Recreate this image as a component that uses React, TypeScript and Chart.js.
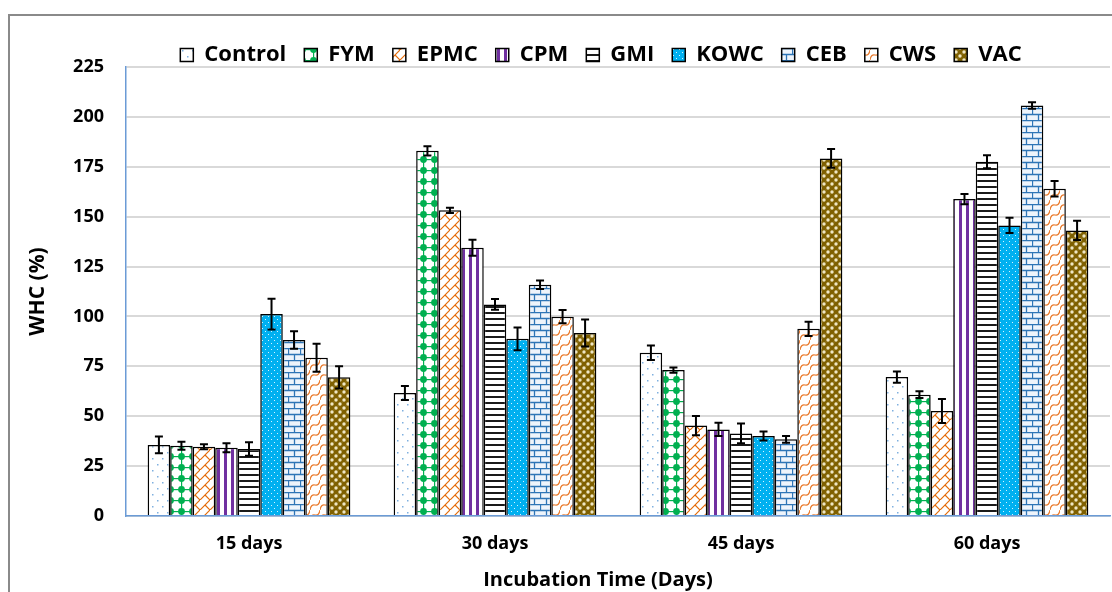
import React, { useEffect, useRef } from 'react';
import { Chart, registerables } from 'chart.js';

Chart.register(...registerables);

// ---------- data ----------
const categories = ['15 days', '30 days', '45 days', '60 days'];
const seriesNames = ['Control', 'FYM', 'EPMC', 'CPM', 'GMI', 'KOWC', 'CEB', 'CWS', 'VAC'];

const control = [35.6, 61.6, 81.8, 69.6];
const fym = [35.2, 183.0, 73.1, 60.8];
const epmc = [34.7, 153.2, 45.3, 52.6];
const cpm = [34.2, 134.4, 43.4, 158.8];
const gmi = [33.6, 106.0, 41.4, 177.5];
const kowc = [101.2, 88.8, 40.1, 145.6];
const ceb = [88.2, 115.9, 38.4, 205.7];
const cws = [79.3, 99.9, 93.8, 164.0];
const vac = [69.5, 91.7, 179.2, 143.1];

const controlErr = [4.2, 3.5, 3.6, 2.8];
const fymErr = [2.0, 2.3, 1.3, 1.7];
const epmcErr = [1.2, 1.3, 4.8, 6.0];
const cpmErr = [2.3, 4.0, 3.3, 2.6];
const gmiErr = [3.4, 2.7, 5.0, 3.3];
const kowcErr = [7.7, 5.7, 2.3, 3.8];
const cebErr = [4.4, 2.1, 1.7, 1.6];
const cwsErr = [7.0, 3.3, 3.6, 3.9];
const vacErr = [5.6, 6.8, 4.7, 4.8];

const seriesValues = [control, fym, epmc, cpm, gmi, kowc, ceb, cws, vac];
const seriesErrors = [controlErr, fymErr, epmcErr, cpmErr, gmiErr, kowcErr, cebErr, cwsErr, vacErr];

const yTicksMin = 0;
const yTicksMax = 225;
const yTicksStep = 25;

const yTitle = 'WHC (%)';
const xTitle = 'Incubation Time (Days)';

const FONT = "'Open Sans', 'DejaVu Sans', sans-serif";

// ---------- patterns ----------
type Draw = (g: CanvasRenderingContext2D, w: number, h: number) => void;
function makePattern(w: number, h: number, draw: Draw): CanvasPattern | string {
  const c = document.createElement('canvas');
  c.width = w;
  c.height = h;
  const g = c.getContext('2d');
  if (!g) return '#ccc';
  draw(g, w, h);
  return g.createPattern(c, 'repeat') || '#ccc';
}

function buildPatterns() {
  const controlP = makePattern(10, 12, (g, w, h) => {
    g.fillStyle = '#fff';
    g.fillRect(0, 0, w, h);
    g.fillStyle = '#7fb0e0';
    g.fillRect(2, 2, 1.5, 1.5);
    g.fillRect(7, 8, 1.5, 1.5);
  });
  const fymP = makePattern(11, 11, (g, w, h) => {
    g.fillStyle = '#fff';
    g.fillRect(0, 0, w, h);
    g.fillStyle = '#00B050';
    g.beginPath();
    g.arc(5.5, 5.5, 3.4, 0, Math.PI * 2);
    g.fill();
    g.fillRect(5, 0, 1.2, h);
    g.fillRect(0, 5, w, 1.2);
  });
  const epmcP = makePattern(10, 10, (g, w, h) => {
    g.fillStyle = '#fff';
    g.fillRect(0, 0, w, h);
    g.strokeStyle = '#E46C0A';
    g.lineWidth = 1.2;
    g.beginPath();
    g.moveTo(0, 10);
    g.lineTo(10, 0);
    g.moveTo(5, 5);
    g.lineTo(10, 10);
    g.stroke();
  });
  const cpmP = makePattern(7, 2, (g, w, h) => {
    g.fillStyle = '#fff';
    g.fillRect(0, 0, w, h);
    g.fillStyle = '#7030A0';
    g.fillRect(0, 0, 3, h);
  });
  const gmiP = makePattern(2, 6, (g, w, h) => {
    g.fillStyle = '#fff';
    g.fillRect(0, 0, w, h);
    g.fillStyle = '#1a1a1a';
    g.fillRect(0, 0, w, 2);
  });
  const kowcP = makePattern(6, 6, (g, w, h) => {
    g.fillStyle = '#00B0F0';
    g.fillRect(0, 0, w, h);
    g.fillStyle = '#d6f3ff';
    g.fillRect(1, 1, 1, 1);
    g.fillRect(4, 4, 1, 1);
  });
  const cebP = makePattern(12, 12, (g, w, h) => {
    g.fillStyle = '#eef4fb';
    g.fillRect(0, 0, w, h);
    g.strokeStyle = '#2E75B6';
    g.lineWidth = 1.3;
    g.beginPath();
    g.moveTo(0, 0.5);
    g.lineTo(12, 0.5);
    g.moveTo(0, 6.5);
    g.lineTo(12, 6.5);
    g.moveTo(0.5, 0);
    g.lineTo(0.5, 6.5);
    g.moveTo(6.5, 6.5);
    g.lineTo(6.5, 12);
    g.stroke();
  });
  const cwsP = makePattern(10, 10, (g, w, h) => {
    g.fillStyle = '#fff';
    g.fillRect(0, 0, w, h);
    g.strokeStyle = '#E97A2B';
    g.lineWidth = 1.2;
    g.beginPath();
    g.moveTo(0, 10);
    g.quadraticCurveTo(1, 4, 5, 5);
    g.quadraticCurveTo(9, 6, 10, 0);
    g.stroke();
  });
  const vacP = makePattern(8, 8, (g, w, h) => {
    g.fillStyle = '#7F6000';
    g.fillRect(0, 0, w, h);
    g.fillStyle = '#efe6c4';
    const pts = [[0, 0], [8, 0], [0, 8], [8, 8], [4, 4]];
    pts.forEach(([x, y]) => {
      g.beginPath();
      g.arc(x, y, 1.7, 0, Math.PI * 2);
      g.fill();
    });
    g.fillStyle = '#a8913f';
    g.fillRect(1.5, 5.5, 1, 1);
    g.fillRect(5.5, 1.5, 1, 1);
  });
  return [controlP, fymP, epmcP, cpmP, gmiP, kowcP, cebP, cwsP, vacP];
}

// ---------- plugins ----------
const errorBarPlugin = {
  id: 'errorBars',
  afterDatasetsDraw(chart: any) {
    const ctx = chart.ctx;
    const yScale = chart.scales.y;
    ctx.save();
    ctx.strokeStyle = '#000';
    ctx.lineWidth = 2;
    chart.data.datasets.forEach((ds: any, i: number) => {
      const meta = chart.getDatasetMeta(i);
      const errs = seriesErrors[i];
      meta.data.forEach((bar: any, j: number) => {
        const v = ds.data[j];
        const e = errs[j];
        const x = bar.x;
        const yt = yScale.getPixelForValue(v + e);
        const yb = yScale.getPixelForValue(v - e);
        ctx.beginPath();
        ctx.moveTo(x, yt);
        ctx.lineTo(x, yb);
        ctx.moveTo(x - 4, yt);
        ctx.lineTo(x + 4, yt);
        ctx.moveTo(x - 4, yb);
        ctx.lineTo(x + 4, yb);
        ctx.stroke();
      });
    });
    ctx.restore();
  },
};

const shiftPlugin = {
  id: 'shiftBoxes',
  afterLayout(chart: any) {
    const lg = chart.legend;
    if (lg) {
      lg.left += 46;
      lg.right += 46;
      lg.top += 9;
      lg.bottom += 9;
    }
    const tt = chart.titleBlock;
    if (tt) {
      tt.left += 43;
      tt.right += 43;
    }
  },
};

export default function App() {
  const ref = useRef<HTMLCanvasElement | null>(null);

  useEffect(() => {
    if (!ref.current) return;
    const patterns = buildPatterns();
    const chart = new Chart(ref.current, {
      type: 'bar',
      data: {
        labels: categories,
        datasets: seriesNames.map((name, i) => ({
          label: name,
          data: seriesValues[i],
          backgroundColor: patterns[i] as any,
          borderColor: '#000',
          borderWidth: 1.5,
          barPercentage: 1,
          categoryPercentage: 0.824,
        })),
      },
      options: {
        responsive: false,
        animation: false,
        devicePixelRatio: 1,
        layout: { padding: { top: 17, left: 0, right: 2, bottom: 0 } },
        plugins: {
          tooltip: { enabled: false },
          legend: {
            position: 'top',
            labels: {
              boxWidth: 13,
              boxHeight: 13,
              padding: 18,
              color: '#000',
              font: { family: FONT, size: 22, weight: 'bold' },
            },
          },
          title: {
            display: true,
            position: 'bottom',
            text: xTitle,
            color: '#000',
            padding: { top: 0, bottom: 0 },
            font: { family: FONT, size: 20, weight: 'bold', lineHeight: 1.2 },
          },
        },
        scales: {
          x: {
            grid: { display: false, drawTicks: false },
            border: { display: true, color: '#6b9bd6', width: 1.5 },
            ticks: {
              color: '#000',
              padding: 17,
              font: { family: FONT, size: 18, weight: 'bold', lineHeight: 1.2 },
            },
            afterFit: (s: any) => {
              s.height = 52;
            },
          },
          y: {
            min: yTicksMin,
            max: yTicksMax,
            grid: { color: '#d9d9d9', lineWidth: 2, drawTicks: false },
            border: { display: true, color: '#6b9bd6', width: 1.5 },
            ticks: {
              stepSize: yTicksStep,
              color: '#000',
              padding: 22,
              font: { family: FONT, size: 18, weight: 'bold' },
            },
            title: {
              display: true,
              text: yTitle,
              color: '#000',
              padding: { top: 25, bottom: 0 },
              font: { family: FONT, size: 21, weight: 'bold', lineHeight: 1.2 },
            },
            afterFit: (s: any) => {
              s.width = 126;
            },
          },
        },
      },
      plugins: [errorBarPlugin, shiftPlugin],
    });
    if ((document as any).fonts && (document as any).fonts.load) {
      (document as any).fonts.load(`700 20px 'Open Sans'`).then(() => chart.update()).catch(() => {});
    }
    return () => chart.destroy();
  }, []);

  return (
    <div
      style={{
        position: 'fixed',
        left: 0,
        top: 0,
        width: 1112,
        height: 592,
        overflow: 'hidden',
        background: '#fff',
      }}
    >
      <div
        style={{
          position: 'absolute',
          left: 8,
          top: 14,
          width: 1300,
          height: 800,
          border: '2px solid #8a8a8a',
        }}
      />
      <canvas ref={ref} width={1112} height={592} style={{ position: 'absolute', left: 0, top: 0 }} />
    </div>
  );
}
